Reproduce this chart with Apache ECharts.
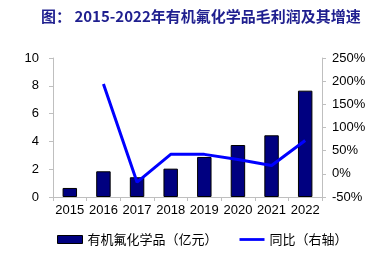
<!DOCTYPE html>
<html><head><meta charset="utf-8">
<script src="https://cdn.jsdelivr.net/npm/echarts@6/dist/echarts.min.js"></script>
<style>html,body{margin:0;padding:0;background:#fff}#c{width:370px;height:254px}</style>
</head><body><div id="c"></div>
<script>
const titleText = '图： 2015-2022年有机氟化学品毛利润及其增速';
const categories = ['2015','2016','2017','2018','2019','2020','2021','2022'];
const profit = [0.65, 1.85, 1.42, 2.04, 2.88, 3.74, 4.44, 7.65];
const growth = [null, 194, -18, 42, 42, 31, 18, 72];
const barName = '有机氟化学品（亿元）';
const lineName = '同比（右轴）';
const leftTicks = {min: 0, max: 10, interval: 2};
const rightTicks = {min: -50, max: 250, interval: 50};

const chart = echarts.init(document.getElementById('c'), null, {renderer: 'canvas'});
const axisGray = '#bfbfbf';
const labelFont = {fontFamily: 'Liberation Sans, Arial, sans-serif', fontSize: 13, color: '#000'};
chart.setOption({
  animation: false,
  title: {
    text: titleText, left: 36, top: 4,
    textStyle: {fontFamily: 'Noto Sans CJK SC', fontWeight: 'bold', fontSize: 15, color: '#1f1f8f'}
  },
  legend: {
    bottom: 3, left: 52, itemGap: 22, itemWidth: 25, itemHeight: 8,
    textStyle: {fontFamily: 'Noto Sans CJK SC', fontSize: 13, color: '#000'},
    data: [
      {name: barName, icon: 'rect', itemStyle: {color: '#000080', borderColor: '#000', borderWidth: 1}},
      {name: lineName, icon: 'path://M0,0 L27,0 L27,3 L0,3 Z', itemStyle: {color: '#0000ff', borderWidth: 0}}
    ]
  },
  grid: {left: 53, right: 48, top: 58, bottom: 57},
  xAxis: {
    type: 'category', data: categories, boundaryGap: true,
    axisLine: {lineStyle: {color: axisGray, width: 1}},
    axisTick: {show: true, inside: false, length: 4, alignWithLabel: false, lineStyle: {color: axisGray}},
    axisLabel: Object.assign({margin: 7, interval: 0}, labelFont)
  },
  yAxis: [
    {
      type: 'value', min: leftTicks.min, max: leftTicks.max, interval: leftTicks.interval,
      axisLine: {show: true, lineStyle: {color: axisGray}},
      axisTick: {show: true, length: 4, lineStyle: {color: axisGray}},
      splitLine: {show: false},
      axisLabel: Object.assign({margin: 14}, labelFont)
    },
    {
      type: 'value', min: rightTicks.min, max: rightTicks.max, interval: rightTicks.interval,
      axisLine: {show: true, lineStyle: {color: axisGray}},
      axisTick: {show: true, length: 4, lineStyle: {color: axisGray}},
      splitLine: {show: false},
      axisLabel: Object.assign({margin: 10, formatter: '{value}%'}, labelFont)
    }
  ],
  series: [
    {
      name: barName, type: 'bar', data: profit, barWidth: '43%', yAxisIndex: 0,
      itemStyle: {color: '#000080', borderColor: '#000', borderWidth: 1}
    },
    {
      name: lineName, type: 'line', data: growth, yAxisIndex: 1,
      showSymbol: false, symbol: 'none', connectNulls: false,
      lineStyle: {color: '#0000ff', width: 3}, itemStyle: {color: '#0000ff'}
    }
  ]
});
</script></body></html>
